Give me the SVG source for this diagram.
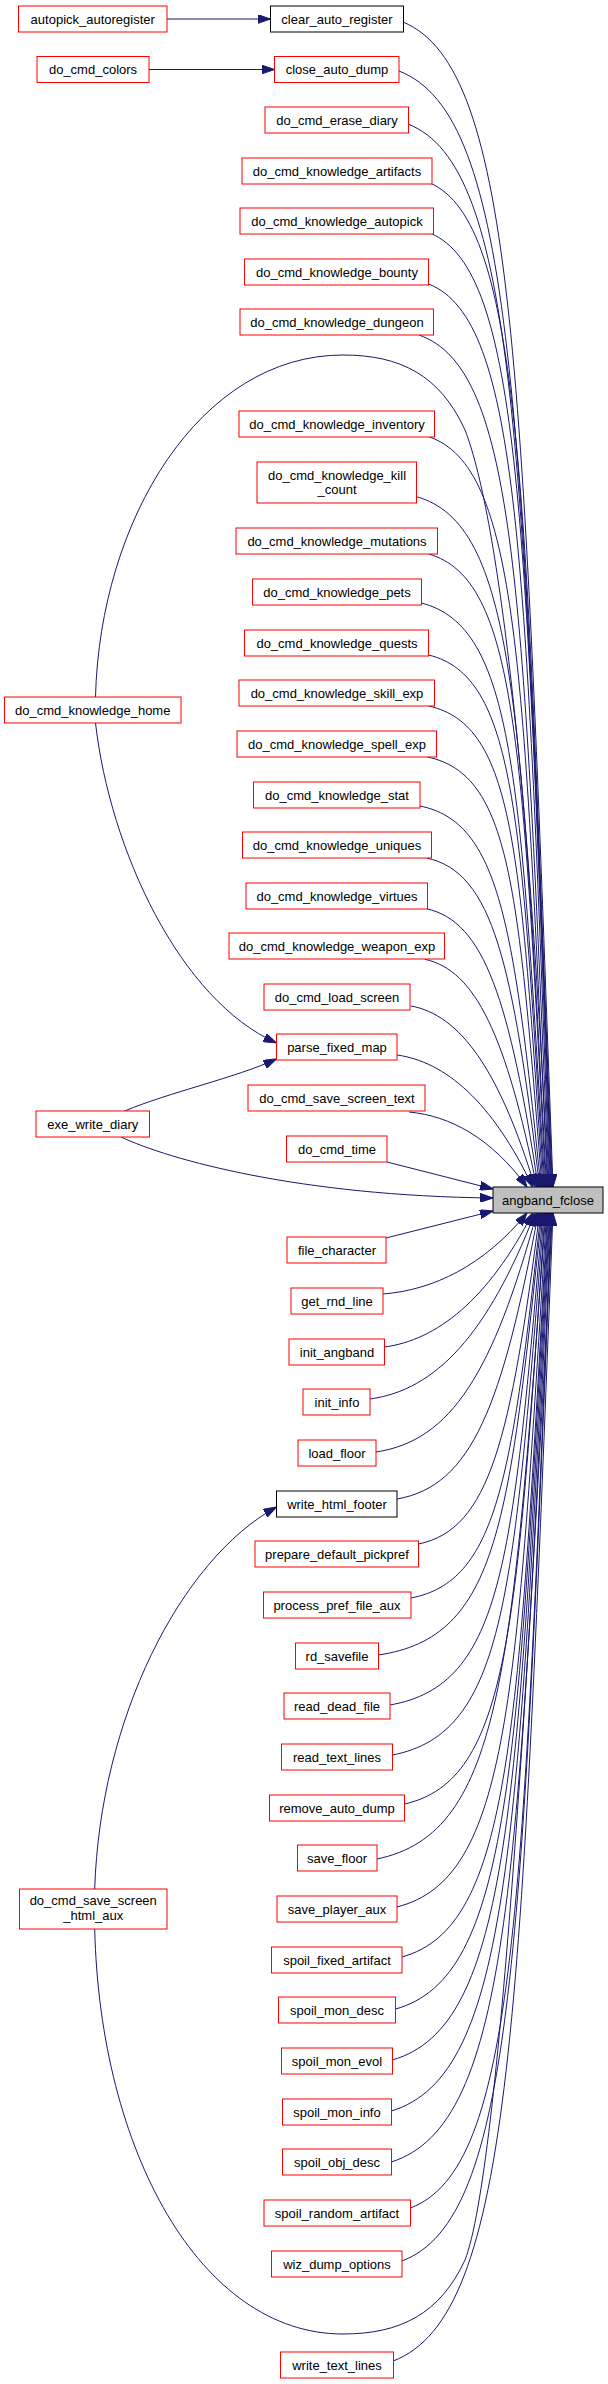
<svg xmlns="http://www.w3.org/2000/svg" width="608" height="2384" viewBox="0 0 608 2384">
<style>
.n rect{fill:#fff;stroke:#ff0000;stroke-width:1}
.b rect{fill:#fff;stroke:#000;stroke-width:1}
.f rect{fill:#bfbfbf;stroke:#000;stroke-width:1}
text{font-family:"Liberation Sans",Arial,sans-serif;font-size:13px;fill:#000;text-anchor:middle}
.e path{fill:none;stroke:#191970;stroke-width:1;marker-end:url(#ah)}
</style>
<defs>
<marker id="ah" markerUnits="userSpaceOnUse" viewBox="0 0 13 9" markerWidth="13" markerHeight="9" refX="13" refY="4.5" orient="auto">
<path d="M0,0 L13,4.5 L0,9 Z" fill="#191970" stroke="#191970" stroke-width="1"/>
</marker>
</defs>
<rect width="608" height="2384" fill="#fff"/>
<g class="e" id="edges">
<path d="M166.8,19 L270.5,19"/>
<path d="M149,69.5 L274.5,69.5"/>
<path d="M95.5,723 C110,850 180,1000 276.5,1043"/>
<path d="M124.7,1111 C170,1092 235,1078 276.5,1059"/>
<path d="M94.7,1889 C100,1720 180,1560 276.5,1507"/>
<path d="M403,22 C515.5,68.6 523,371.5 553,1187"/>
<path d="M399,71 C514.1,115.6 521.7,405.8 552.4,1187"/>
<path d="M408,124 C515.8,166.5 523,442.9 551.7,1187"/>
<path d="M430,183 C520.8,223.2 526.9,484.2 551.1,1187"/>
<path d="M430.6,233.3 C520.5,271.4 526.4,519.4 550.4,1187"/>
<path d="M428.7,284 C519.5,320.1 525.5,554.9 549.7,1187"/>
<path d="M419,335 C516.5,369.1 523,590.6 549,1187"/>
<path d="M95.5,697 C100,520 200,355 343,355 C400,355 440,375 465,430 C500,520 530,800 548.2,1187"/>
<path d="M428.7,436.7 C517.8,466.7 523.7,661.8 547.5,1187"/>
<path d="M416.6,496.7 C514.1,524.3 520.6,703.8 546.6,1187"/>
<path d="M428.7,554 C516.5,579.3 522.4,743.9 545.8,1187"/>
<path d="M421.3,603 C514,626.4 520.2,778.2 544.9,1187"/>
<path d="M428.7,655 C515.2,676.3 520.9,814.6 544,1187"/>
<path d="M428.7,706 C514.4,725.2 520.1,850.3 543,1187"/>
<path d="M427.5,757 C510.3,774.5 518.3,887.3 542,1187"/>
<path d="M420,806 C499.6,822 513.9,924.7 540.9,1187"/>
<path d="M426.7,858 C493.3,872.5 512.6,963.3 539.7,1187"/>
<path d="M426.3,908.7 C484.7,921.4 509.5,1000.2 538.3,1187"/>
<path d="M424.8,959.3 C475.6,970.1 506.1,1036 536.8,1187"/>
<path d="M411,1006 C459.5,1014.9 499,1068.4 535,1187"/>
<path d="M397,1055 C444.8,1061.6 492.1,1101.2 532.7,1187"/>
<path d="M409,1112 C450.3,1115.8 491.6,1138.3 527,1187"/>
<path d="M387,1162 L493,1189"/>
<path d="M121,1137 C170,1160 300,1196 493,1198"/>
<path d="M386,1238 L493,1211"/>
<path d="M383,1294 C433.4,1290 483.8,1265.7 527,1213"/>
<path d="M384.3,1347 C436.2,1340.3 488.2,1300.1 532.7,1213"/>
<path d="M370,1399 C435.7,1389.9 487.5,1335 535,1213"/>
<path d="M376,1452 C451.4,1440.8 493.4,1371.9 536.8,1213"/>
<path d="M397,1499 C472,1486 502.3,1405.5 538.3,1213"/>
<path d="M418.5,1544 C490.1,1529.4 510.6,1438.1 539.7,1213"/>
<path d="M410.8,1598 C497.1,1581.8 512,1478.3 540.9,1213"/>
<path d="M378.4,1655 C499.3,1637.3 508.8,1521.9 542,1213"/>
<path d="M389.7,1705 C504.7,1685.3 512.3,1557.4 543,1213"/>
<path d="M392.4,1755 C506.1,1733.3 513.7,1592.4 544,1213"/>
<path d="M404.5,1804 C509.8,1780.4 516.8,1626.7 544.9,1213"/>
<path d="M376.8,1859 C503.6,1833.2 512,1665.2 545.8,1213"/>
<path d="M396.7,1907 C509.1,1879.2 516.6,1698.8 546.6,1213"/>
<path d="M401.8,1957 C511.1,1927.2 518.4,1733.8 547.5,1213"/>
<path d="M395.6,2009 C510.1,1977.2 517.7,1770.2 548.2,1213"/>
<path d="M392.4,2060 C509.9,2026.1 517.7,1805.9 549,1213"/>
<path d="M391.3,2111 C510.1,2075.1 518,1841.6 549.7,1213"/>
<path d="M391.3,2162 C510.6,2124 518.6,1877.3 550.4,1213"/>
<path d="M410.4,2208 C515.9,2168.2 523,1909.5 551.1,1213"/>
<path d="M401.8,2261 C514.2,2219.1 521.7,1946.6 551.7,1213"/>
<path d="M94.7,1929 C100,2150 200,2334 343,2334 C400,2334 440,2314 465,2260 C500,2170 530,1650 552.4,1213"/>
<path d="M393.2,2361 C513.1,2315.1 521,2016.6 553,1213"/>
</g>
<g id="autopick_autoregister" class="n"><rect x="18.5" y="6" width="148.5" height="26"/><text x="92.75" y="23.5">autopick_autoregister</text></g>
<g id="do_cmd_colors" class="n"><rect x="37" y="56.5" width="112" height="26"/><text x="93" y="74">do_cmd_colors</text></g>
<g id="do_cmd_knowledge_home" class="n"><rect x="4.5" y="697" width="176.5" height="26"/><text x="92.75" y="714.5">do_cmd_knowledge_home</text></g>
<g id="exe_write_diary" class="n"><rect x="36" y="1111" width="113.5" height="26"/><text x="92.75" y="1128.5">exe_write_diary</text></g>
<g id="do_cmd_save_screen_html_aux" class="n"><rect x="19.5" y="1889" width="147.5" height="40"/><text x="93.25" y="1904.5">do_cmd_save_screen</text><text x="93.25" y="1919.5">_html_aux</text></g>
<g id="clear_auto_register" class="b"><rect x="270.5" y="6" width="133" height="26"/><text x="337" y="23.5">clear_auto_register</text></g>
<g id="close_auto_dump" class="n"><rect x="274.5" y="56.5" width="124.5" height="26"/><text x="337" y="74">close_auto_dump</text></g>
<g id="do_cmd_erase_diary" class="n"><rect x="265" y="107" width="143.5" height="26"/><text x="337" y="124.5">do_cmd_erase_diary</text></g>
<g id="do_cmd_knowledge_artifacts" class="n"><rect x="242" y="158" width="190" height="26"/><text x="337" y="175.5">do_cmd_knowledge_artifacts</text></g>
<g id="do_cmd_knowledge_autopick" class="n"><rect x="240" y="208" width="193.5" height="26"/><text x="337" y="225.5">do_cmd_knowledge_autopick</text></g>
<g id="do_cmd_knowledge_bounty" class="n"><rect x="244.5" y="259" width="184" height="26"/><text x="337" y="276.5">do_cmd_knowledge_bounty</text></g>
<g id="do_cmd_knowledge_dungeon" class="n"><rect x="240" y="309" width="193.5" height="26"/><text x="337" y="326.5">do_cmd_knowledge_dungeon</text></g>
<g id="do_cmd_knowledge_inventory" class="n"><rect x="239" y="411" width="195.5" height="26"/><text x="337" y="428.5">do_cmd_knowledge_inventory</text></g>
<g id="do_cmd_knowledge_kill_count" class="n"><rect x="257" y="462" width="159.5" height="41"/><text x="337" y="479.5">do_cmd_knowledge_kill</text><text x="337" y="494">_count</text></g>
<g id="do_cmd_knowledge_mutations" class="n"><rect x="236" y="528" width="201.5" height="26"/><text x="337" y="545.5">do_cmd_knowledge_mutations</text></g>
<g id="do_cmd_knowledge_pets" class="n"><rect x="252.5" y="579" width="169" height="26"/><text x="337" y="596.5">do_cmd_knowledge_pets</text></g>
<g id="do_cmd_knowledge_quests" class="n"><rect x="244.5" y="630" width="184" height="26"/><text x="337" y="647.5">do_cmd_knowledge_quests</text></g>
<g id="do_cmd_knowledge_skill_exp" class="n"><rect x="239" y="680" width="195.5" height="26"/><text x="337" y="697.5">do_cmd_knowledge_skill_exp</text></g>
<g id="do_cmd_knowledge_spell_exp" class="n"><rect x="237" y="731" width="199.5" height="26"/><text x="337" y="748.5">do_cmd_knowledge_spell_exp</text></g>
<g id="do_cmd_knowledge_stat" class="n"><rect x="253.5" y="782" width="166.5" height="26"/><text x="337" y="799.5">do_cmd_knowledge_stat</text></g>
<g id="do_cmd_knowledge_uniques" class="n"><rect x="242.5" y="832" width="189" height="26"/><text x="337" y="849.5">do_cmd_knowledge_uniques</text></g>
<g id="do_cmd_knowledge_virtues" class="n"><rect x="246" y="883" width="181.5" height="26"/><text x="337" y="900.5">do_cmd_knowledge_virtues</text></g>
<g id="do_cmd_knowledge_weapon_exp" class="n"><rect x="229" y="933" width="215.5" height="26"/><text x="337" y="950.5">do_cmd_knowledge_weapon_exp</text></g>
<g id="do_cmd_load_screen" class="n"><rect x="264" y="984" width="146" height="26"/><text x="337" y="1001.5">do_cmd_load_screen</text></g>
<g id="parse_fixed_map" class="n"><rect x="276.5" y="1034" width="120.5" height="26"/><text x="337" y="1051.5">parse_fixed_map</text></g>
<g id="do_cmd_save_screen_text" class="n"><rect x="248" y="1085" width="177" height="26"/><text x="337" y="1102.5">do_cmd_save_screen_text</text></g>
<g id="do_cmd_time" class="n"><rect x="286.5" y="1136" width="100.5" height="26"/><text x="337" y="1153.5">do_cmd_time</text></g>
<g id="angband_fclose" class="f"><rect x="493" y="1187" width="110" height="26"/><text x="548" y="1204.5">angband_fclose</text></g>
<g id="file_character" class="n"><rect x="287" y="1237" width="99" height="26"/><text x="337" y="1254.5">file_character</text></g>
<g id="get_rnd_line" class="n"><rect x="291" y="1288" width="92" height="26"/><text x="337" y="1305.5">get_rnd_line</text></g>
<g id="init_angband" class="n"><rect x="289" y="1339" width="95.5" height="26"/><text x="337" y="1356.5">init_angband</text></g>
<g id="init_info" class="n"><rect x="303" y="1389" width="67" height="26"/><text x="337" y="1406.5">init_info</text></g>
<g id="load_floor" class="n"><rect x="298" y="1440" width="78" height="26"/><text x="337" y="1457.5">load_floor</text></g>
<g id="write_html_footer" class="b"><rect x="276.5" y="1491" width="120.5" height="26"/><text x="337" y="1508.5">write_html_footer</text></g>
<g id="prepare_default_pickpref" class="n"><rect x="255" y="1541" width="163.5" height="26"/><text x="337" y="1558.5">prepare_default_pickpref</text></g>
<g id="process_pref_file_aux" class="n"><rect x="263.5" y="1592" width="147.5" height="26"/><text x="337" y="1609.5">process_pref_file_aux</text></g>
<g id="rd_savefile" class="n"><rect x="295.5" y="1643" width="83" height="26"/><text x="337" y="1660.5">rd_savefile</text></g>
<g id="read_dead_file" class="n"><rect x="284" y="1693" width="106" height="26"/><text x="337" y="1710.5">read_dead_file</text></g>
<g id="read_text_lines" class="n"><rect x="281.5" y="1744" width="111" height="26"/><text x="337" y="1761.5">read_text_lines</text></g>
<g id="remove_auto_dump" class="n"><rect x="269.5" y="1795" width="135" height="26"/><text x="337" y="1812.5">remove_auto_dump</text></g>
<g id="save_floor" class="n"><rect x="297.5" y="1845" width="79.5" height="26"/><text x="337" y="1862.5">save_floor</text></g>
<g id="save_player_aux" class="n"><rect x="277" y="1896" width="120" height="26"/><text x="337" y="1913.5">save_player_aux</text></g>
<g id="spoil_fixed_artifact" class="n"><rect x="271.5" y="1947" width="130.5" height="26"/><text x="337" y="1964.5">spoil_fixed_artifact</text></g>
<g id="spoil_mon_desc" class="n"><rect x="278.5" y="1997" width="117" height="26"/><text x="337" y="2014.5">spoil_mon_desc</text></g>
<g id="spoil_mon_evol" class="n"><rect x="281.5" y="2048" width="111" height="26"/><text x="337" y="2065.5">spoil_mon_evol</text></g>
<g id="spoil_mon_info" class="n"><rect x="282.5" y="2099" width="109" height="26"/><text x="337" y="2116.5">spoil_mon_info</text></g>
<g id="spoil_obj_desc" class="n"><rect x="282.5" y="2149" width="109" height="26"/><text x="337" y="2166.5">spoil_obj_desc</text></g>
<g id="spoil_random_artifact" class="n"><rect x="264" y="2200" width="146.5" height="26"/><text x="337" y="2217.5">spoil_random_artifact</text></g>
<g id="wiz_dump_options" class="n"><rect x="271.5" y="2251" width="130.5" height="26"/><text x="337" y="2268.5">wiz_dump_options</text></g>
<g id="write_text_lines" class="n"><rect x="280.5" y="2352" width="113" height="26"/><text x="337" y="2369.5">write_text_lines</text></g>
</svg>
